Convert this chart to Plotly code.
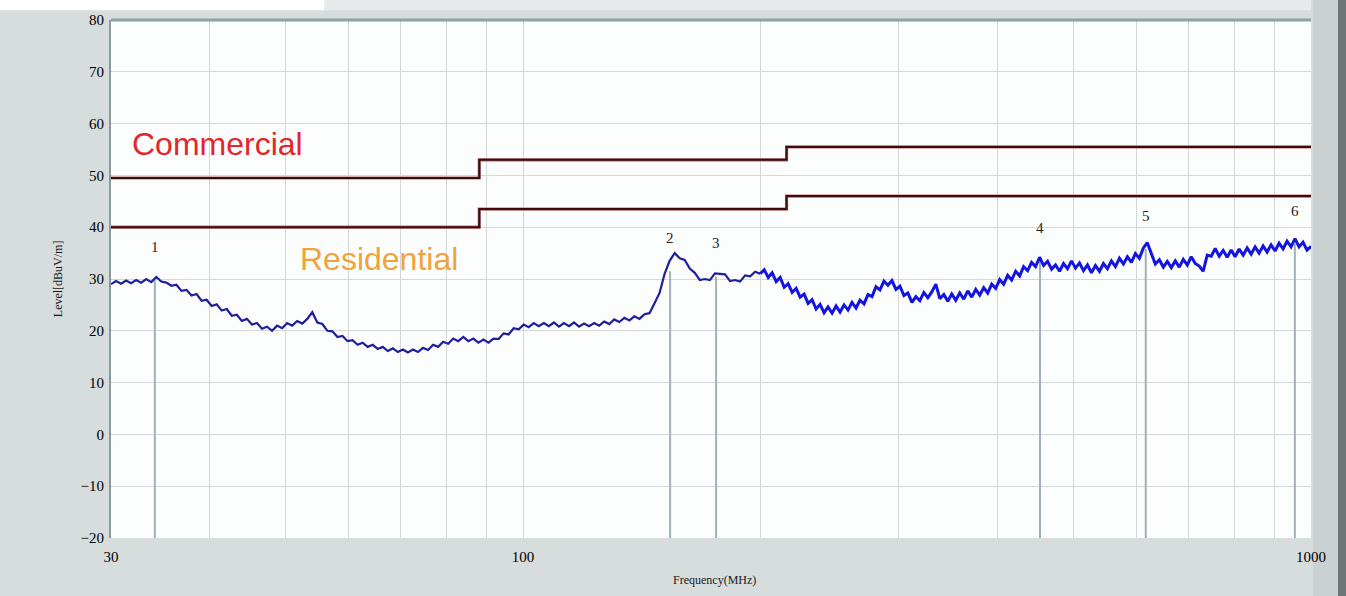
import numpy as np
import plotly.graph_objects as go

# ---- axis ticks ----
y_ticks = [80, 70, 60, 50, 40, 30, 20, 10, 0, -10, -20]
x_grid_mhz = [30, 40, 50, 60, 70, 80, 90, 100, 200, 300, 400, 500, 600, 700, 800, 900, 1000]
x_tick_text = ["30", "", "", "", "", "", "", "100", "", "", "", "", "", "", "", "", "1000"]

# ---- limit lines (step edges in MHz, levels in dBuV/m) ----
limit_edges_mhz = [30, 88, 88, 216, 216, 1000]
commercial_db = [49.5, 49.5, 53.0, 53.0, 55.5, 55.5]
residential_db = [40.0, 40.0, 43.5, 43.5, 46.0, 46.0]

# ---- measured trace: two sweep bands ----
band1_start, band1_stop = 30, 200
band1_db = [
    29.0, 29.6, 29.1, 29.7, 29.2, 29.8, 29.3, 30.0, 29.4, 30.4,
    29.5, 29.3, 28.7, 28.9, 27.7, 27.9, 26.8, 27.1, 25.8, 26.0,
    24.8, 25.1, 23.9, 24.2, 22.9, 23.1, 21.9, 22.3, 21.2, 21.5,
    20.4, 20.8, 20.0, 21.0, 20.5, 21.5, 21.0, 21.9, 21.4, 22.3,
    23.6, 21.6, 21.3, 20.0, 19.9, 18.8, 19.0, 18.0, 18.2, 17.3,
    17.7, 16.9, 17.3, 16.5, 16.9, 16.1, 16.6, 15.9, 16.4, 15.8,
    16.4, 15.9, 16.7, 16.3, 17.3, 16.9, 17.9, 17.5, 18.5, 18.0,
    18.8, 18.0, 18.5, 17.7, 18.3, 17.7, 18.5, 18.4, 19.5, 19.3,
    20.5, 20.3, 21.2, 20.7, 21.5, 20.9, 21.5, 20.9, 21.6, 20.8,
    21.5, 20.9, 21.6, 20.8, 21.4, 20.9, 21.5, 21.0, 21.8, 21.3,
    22.2, 21.7, 22.5, 22.0, 22.8, 22.3, 23.2, 23.4, 25.3, 27.3,
    31.0, 33.5, 35.0, 34.0, 33.7, 32.0, 31.2, 29.8, 30.0, 29.8,
    31.1, 31.0, 30.9, 29.6, 29.8, 29.5, 30.7, 30.5, 31.4, 31.0,
]
band2_start, band2_stop = 200, 1000
band2_db = [
    31.0, 31.8, 30.3, 31.2, 29.5, 30.3, 28.4, 29.1, 27.4, 28.2,
    26.5, 27.1, 25.3, 26.0, 24.2, 25.1, 23.5, 24.6, 23.4, 24.8,
    23.6, 25.0, 24.0, 25.5, 24.4, 25.9, 25.2, 27.0, 26.6, 28.5,
    27.9, 29.6, 28.8, 29.7, 28.0, 28.6, 26.8, 27.3, 25.5, 26.6,
    25.8, 27.4, 26.4, 27.5, 29.0, 26.2, 27.0, 25.7, 27.1, 25.9,
    27.3, 26.1, 27.7, 26.5, 28.0, 26.9, 28.3, 27.3, 29.0, 28.2,
    29.9, 29.0, 30.7, 29.8, 31.5, 30.6, 32.4, 31.6, 33.2, 32.4,
    34.2, 32.6, 33.4, 31.9, 32.7, 31.5, 33.0, 32.0, 33.5, 32.1,
    33.1, 31.6, 32.7, 31.2, 32.6, 31.5, 33.0, 32.0, 33.5, 32.4,
    34.0, 32.9, 34.3, 33.2, 34.9, 34.0, 36.0, 37.0, 34.9, 32.9,
    33.7, 32.3, 33.4, 32.2, 33.5, 32.3, 33.8, 32.7, 34.3, 33.0,
    32.5, 31.5, 34.6, 34.4, 35.9, 34.4, 35.5, 34.2, 35.6, 34.3,
    35.8, 34.6, 36.0, 34.8, 36.2, 35.0, 36.4, 35.2, 36.6, 35.4,
    36.9, 35.8, 37.3, 36.2, 37.8, 36.2, 37.1, 35.6, 36.3,
]

# ---- peak markers ----
marker_ids = ["1", "2", "3", "4", "5", "6"]
marker_mhz = [34.1, 153.7, 175.8, 453.0, 617.0, 954.0]
marker_db = [29.8, 31.5, 30.5, 33.5, 35.8, 36.8]

Y_MIN, Y_MAX = -20, 80
X_MIN, X_MAX = 30, 1000

band1_mhz = np.geomspace(band1_start, band1_stop, len(band1_db))
band2_mhz = np.geomspace(band2_start, band2_stop, len(band2_db))

fig = go.Figure()

# marker drop lines
for f, lvl in zip(marker_mhz, marker_db):
    fig.add_trace(go.Scatter(
        x=[f, f], y=[Y_MIN, lvl], mode="lines",
        line=dict(color="#9db3b9", width=2), hoverinfo="skip", showlegend=False))

# limit lines
for lim in (commercial_db, residential_db):
    fig.add_trace(go.Scatter(
        x=limit_edges_mhz, y=lim, mode="lines",
        line=dict(color="#b86a6a", width=3.2), hoverinfo="skip", showlegend=False))
    fig.add_trace(go.Scatter(
        x=limit_edges_mhz, y=lim, mode="lines",
        line=dict(color="#3a0c0c", width=2.0), showlegend=False))

# measured level
fig.add_trace(go.Scatter(
    x=band1_mhz, y=band1_db, mode="lines",
    line=dict(color="#1f1f9e", width=2.2), showlegend=False))
fig.add_trace(go.Scatter(
    x=band2_mhz, y=band2_db, mode="lines",
    line=dict(color="#1414e0", width=3.0), showlegend=False))

annotations = []
for name, f, lvl in zip(marker_ids, marker_mhz, marker_db):
    annotations.append(dict(
        x=np.log10(f), y=lvl, xref="x", yref="y", text=name, showarrow=False,
        yshift=33, font=dict(family="Liberation Serif", size=15, color="#222222")))

annotations += [
    dict(x=np.log10(31.7), y=56.0, xref="x", yref="y", text="Commercial",
         showarrow=False, xanchor="left", yanchor="middle",
         font=dict(family="Liberation Sans", size=32, color="#e3262b")),
    dict(x=np.log10(51.8), y=33.9, xref="x", yref="y", text="Residential",
         showarrow=False, xanchor="left", yanchor="middle",
         font=dict(family="Liberation Sans", size=32, color="#f2a23a")),
    dict(x=-0.044, y=0.5, xref="paper", yref="paper", text="Level[dBuV/m]",
         showarrow=False, textangle=-90, xanchor="center", yanchor="middle",
         font=dict(family="Liberation Serif", size=12, color="#1a1a1a")),
    dict(x=0.503, y=-0.082, xref="paper", yref="paper", text="Frequency(MHz)",
         showarrow=False, yanchor="middle",
         font=dict(family="Liberation Serif", size=12, color="#1a1a1a")),
]

shapes = [
    # light strip along the top-left of the window
    dict(type="rect", xref="paper", yref="paper", x0=-0.1, x1=0.178, y0=1.019, y1=1.04,
         fillcolor="#ffffff", line=dict(width=0), layer="below"),
    dict(type="rect", xref="paper", yref="paper", x0=0.178, x1=1.0, y0=1.019, y1=1.04,
         fillcolor="#e6eaea", line=dict(width=0), layer="below"),
    # right-hand frame
    dict(type="rect", xref="paper", yref="paper", x0=1.0017, x1=1.0225, y0=-0.12, y1=1.04,
         fillcolor="#c9d1d1", line=dict(width=0), layer="below"),
    dict(type="rect", xref="paper", yref="paper", x0=1.0225, x1=1.03, y0=-0.12, y1=1.04,
         fillcolor="#6e7676", line=dict(width=0), layer="below"),
    # top border of plot area
    dict(type="line", xref="paper", yref="paper", x0=0, x1=1.0, y0=1.0, y1=1.0,
         line=dict(color="#8fa0a0", width=3)),
]

fig.update_layout(
    width=1346, height=596,
    margin=dict(l=111, r=35, t=18, b=58),
    paper_bgcolor="#d7dcdc",
    plot_bgcolor="#fcfefd",
    annotations=annotations,
    shapes=shapes,
    xaxis=dict(
        type="log", range=[np.log10(X_MIN), np.log10(X_MAX)],
        tickmode="array", tickvals=x_grid_mhz, ticktext=x_tick_text,
        showgrid=True, gridcolor="#d3d8d8", gridwidth=1.2,
        ticks="", zeroline=False, showline=False, ticklabelstandoff=8,
        tickfont=dict(family="Liberation Serif", size=15, color="#000000"),
    ),
    yaxis=dict(
        range=[Y_MIN, Y_MAX], tickmode="array", tickvals=y_ticks,
        showgrid=True, gridcolor="#d3d8d8", gridwidth=1.2,
        ticks="", zeroline=False, showline=True, linecolor="#8a9999", linewidth=2,
        ticklabelstandoff=2,
        tickfont=dict(family="Liberation Serif", size=15, color="#000000"),
    ),
)

fig.write_html("out.html")
